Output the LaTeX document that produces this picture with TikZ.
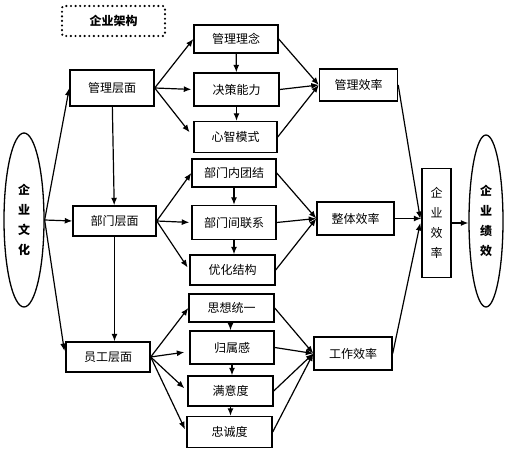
\documentclass[tikz,border=0pt]{standalone}
\usepackage{fontspec}
\newfontfamily\cjk{Noto Sans CJK SC}
\usepackage{tikz}
\usetikzlibrary{arrows.meta,shapes.geometric,calc}
\tikzset{
  flow/.style={-{Latex[length=7.5pt,width=6pt]}, line width=1.2pt, draw=black},
  every node/.style={anchor=center}
}

\begin{document}
\begin{tikzpicture}[
  x=1pt, y=-1pt,
  font=\cjk\fontsize{12}{20}\selectfont,
  levelbox/.style={draw=black, line width=1.4pt, minimum width=84pt, minimum height=31pt, inner sep=1pt, align=center, fill=white},
  itembox/.style={levelbox, minimum width=85pt},
  effbox/.style={levelbox, minimum width=78pt, minimum height=33pt},
  oval/.style={ellipse, draw=black, line width=1.3pt, inner sep=0pt, align=center, font=\cjk\bfseries\fontsize{12}{20}\selectfont},
  titlebox/.style={draw=black, line width=2.4pt, line cap=round, dash pattern=on 0pt off 4.6pt, rounded corners=2pt, minimum width=103pt, minimum height=30pt, font=\cjk\bfseries\fontsize{12}{20}\selectfont}
]
\useasboundingbox (0,0) rectangle (509,454);

% title and the two ovals
\node[titlebox] (title) at (113.5,21) {企业架构};
\node[oval, minimum width=40pt, minimum height=174pt] (culture) at (24,220) {企\\业\\文\\化};
\node[oval, minimum width=34pt, minimum height=172pt] (perf) at (486,221) {企\\业\\绩\\效};

% three levels
\node[levelbox, minimum height=36pt] (mgmt)  at (112,88)    {管理层面};
\node[levelbox, minimum width=83pt, minimum height=30pt] (dept) at (114.5,221) {部门层面};
\node[levelbox, minimum height=30pt] (staff) at (108,357)   {员工层面};

% management items
\node[itembox, minimum width=84pt, minimum height=28pt] (concept) at (236,39)    {管理理念};
\node[itembox, minimum height=33pt] (decide)  at (236.5,89.5) {决策能力};
\node[itembox, minimum width=83pt] (mind)     at (235.5,137)  {心智模式};

% department items
\node[itembox, minimum width=84pt, minimum height=28pt] (unity) at (234,173)   {部门内团结};
\node[itembox, minimum width=84pt, minimum height=34pt] (link)  at (234,222.5) {部门间联系};
\node[itembox, minimum height=30pt] (struct) at (232.5,270) {优化结构};

% staff items
\node[itembox, minimum height=28pt] (thought) at (231.5,308)  {思想统一};
\node[itembox, minimum width=84pt, minimum height=33pt] (belong) at (232,347.5) {归属感};
\node[itembox, minimum height=30pt] (satisf)  at (230.5,391)  {满意度};
\node[itembox] (loyal)   at (229.5,432)  {忠诚度};

% efficiencies
\node[effbox, minimum height=32pt] (meff) at (358.5,85) {管理效率};
\node[effbox, minimum width=77pt] (weff) at (355.5,218.5) {整体效率};
\node[effbox] (jeff) at (353,353.5) {工作效率};
\node[levelbox, minimum width=29pt, minimum height=109pt] (ceff) at (436.5,223) {企\\业\\效\\率};

% culture to levels
\draw[flow] (culture.east) -- (mgmt.west);
\draw[flow] (culture.east) -- (dept.west);
\draw[flow, shorten >=6pt] (culture.east) -- (staff.west);
\draw[flow] (mgmt) -- (dept);
\draw[flow] (dept) -- (staff.north -| dept.south);

% level fans
\draw[flow] (mgmt.east) -- (concept.west);
\draw[flow, shorten >=2pt] (mgmt.east) -- (decide.west);
\draw[flow, shorten >=6pt] (mgmt.east) -- (mind.west);
\draw[flow] (dept.east) -- (unity.west);
\draw[flow, shorten >=2pt] (dept.east) -- (link.west);
\draw[flow, shorten >=3pt] (dept.east) -- (struct.west);
\draw[flow] (staff.east) -- (thought.west);
\draw[flow, shorten >=5pt] (staff.east) -- ($(belong.west)+(0,4)$);
\draw[flow, shorten >=4pt] (staff.east) -- (satisf.west);
\draw[flow, shorten >=3pt] (staff.east) -- (loyal.west);

% item chains
\draw[flow] (concept) -- (decide);
\draw[flow] (decide) -- (mind.north -| decide.south);
\draw[flow] (unity) -- (link);
\draw[flow] (link.south) -- (link.south |- struct.north);
\draw[flow] ($(thought.south)+(-1,0)$) -- ($(thought.south |- belong.north)+(-1,0)$);
\draw[flow] (belong.south) -- (belong.south |- satisf.north);
\draw[flow] (satisf) -- (satisf.south |- loyal.north);

% items to efficiencies
\foreach \src in {concept,decide,mind} \draw[flow] (\src.east) -- (meff.west);
\foreach \src in {unity,link,struct} \draw[flow] (\src.east) -- (weff.west);
\foreach \src in {thought,belong,satisf,loyal} \draw[flow] (\src.east) -- (jeff.west);

% efficiencies to enterprise
\draw[flow] (meff.east) -- ($(ceff.west)+(-1,-4)$);
\draw[flow] (weff.east) -- (weff.east -| ceff.west);
\draw[flow] (jeff.east) -- ($(ceff.west)+(-1,0)$);
\draw[flow] (ceff.east) -- (ceff.east -| perf.west);

\end{tikzpicture}
\end{document}
